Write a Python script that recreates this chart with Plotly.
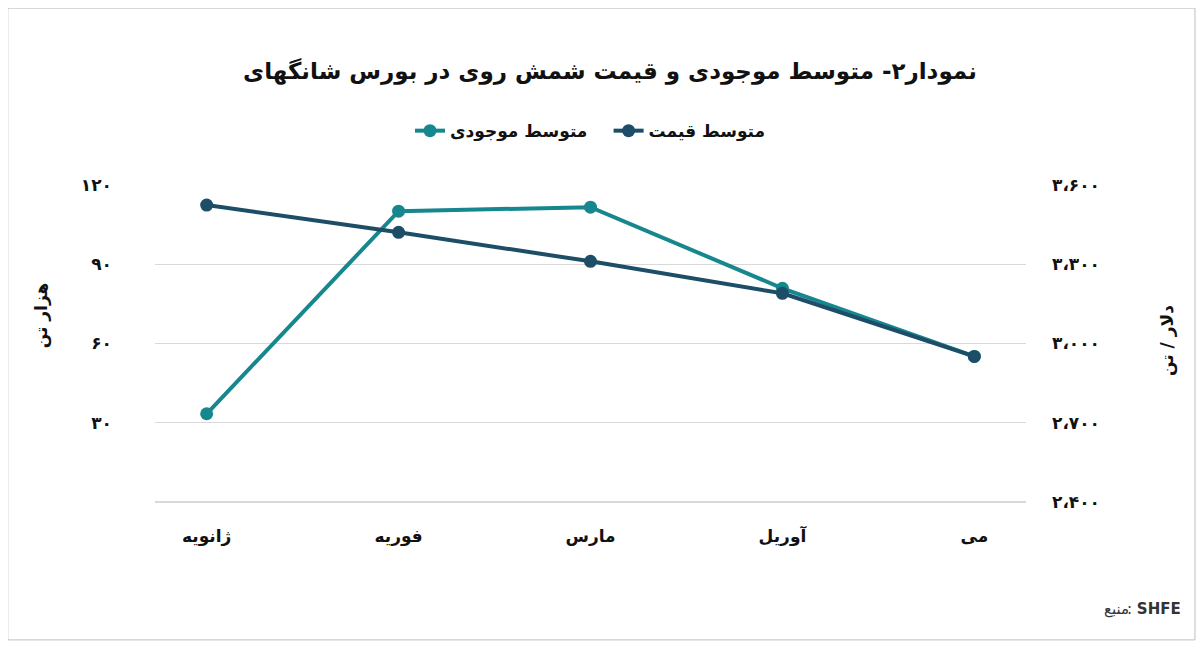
import plotly.graph_objects as go

months = ["ژانویه", "فوریه", "مارس", "آوریل", "می"]
inventory = [33.4, 110.1, 111.6, 80.9, 55.1]
price = [3524, 3421, 3311, 3190, 2951]
left_ticks = [30, 60, 90, 120]
left_labels = ["۳۰", "۶۰", "۹۰", "۱۲۰"]
right_ticks = [2400, 2700, 3000, 3300, 3600]
right_labels = ["۲،۴۰۰", "۲،۷۰۰", "۳،۰۰۰", "۳،۳۰۰", "۳،۶۰۰"]

teal = "#17878f"
dark = "#1d4d67"
font = "DejaVu Sans"
b = lambda s: "<b>" + s + "</b>"

fig = go.Figure()
fig.add_trace(go.Scatter(x=months, y=inventory, name=b("متوسط موجودی") + "   ", mode="lines+markers",
                         line=dict(color=teal, width=4), marker=dict(size=13, color=teal)))
fig.add_trace(go.Scatter(x=months, y=price, name=b("متوسط قیمت"), mode="lines+markers", yaxis="y2",
                         line=dict(color=dark, width=4), marker=dict(size=13, color=dark)))

fig.update_layout(
    width=1204, height=649,
    plot_bgcolor="white", paper_bgcolor="white",
    font=dict(family=font, size=16, color="#111"),
    margin=dict(l=147, r=186, t=177, b=155),
    title=dict(text=b("نمودار۲- متوسط موجودی و قیمت شمش روی در بورس شانگهای"),
               x=0.5, xanchor="center", y=0.915, font=dict(size=23, color="#111")),
    legend=dict(orientation="h", x=0.5, xanchor="center", y=1.17, yanchor="middle",
                font=dict(size=17, color="#111")),
    xaxis=dict(showgrid=False, showline=False, ticks="", tickvals=months,
               ticktext=[b(m) for m in months],
               tickfont=dict(size=17), ticklabelstandoff=22),
    yaxis=dict(range=[0, 120], tickvals=left_ticks, ticktext=[b(t) for t in left_labels], showgrid=True,
               gridcolor="#d9d9d9", zeroline=True, zerolinecolor="#d9d9d9",
               tickfont=dict(size=17), ticklabelstandoff=42),
    yaxis2=dict(range=[2400, 3600], tickvals=right_ticks, ticktext=[b(t) for t in right_labels],
                overlaying="y", side="right", showgrid=False, tickfont=dict(size=17),
                ticklabelstandoff=25),
)
fig.add_annotation(text=b("هزار تن"), textangle=-90, xref="paper", yref="paper", x=-0.145, y=0.70,
                   showarrow=False, font=dict(size=17))
fig.add_annotation(text=b("دلار / تن"), textangle=-90, xref="paper", yref="paper", x=1.177, y=0.51,
                   showarrow=False, font=dict(size=17))
fig.add_shape(type="rect", xref="paper", yref="paper", x0=-0.169, x1=1.194, y0=-0.435, y1=1.558,
              line=dict(color="#bfbfbf", width=1))
fig.add_annotation(text=": <b>SHFE</b>", xref="paper", yref="paper", x=1.18, y=-0.372,
                   xanchor="right", showarrow=False, font=dict(size=15, color="#333"))
fig.add_annotation(text="منبع", xref="paper", yref="paper", x=1.12, y=-0.372,
                   xanchor="right", showarrow=False, font=dict(size=15, color="#333"))
fig.write_html("out.html")
